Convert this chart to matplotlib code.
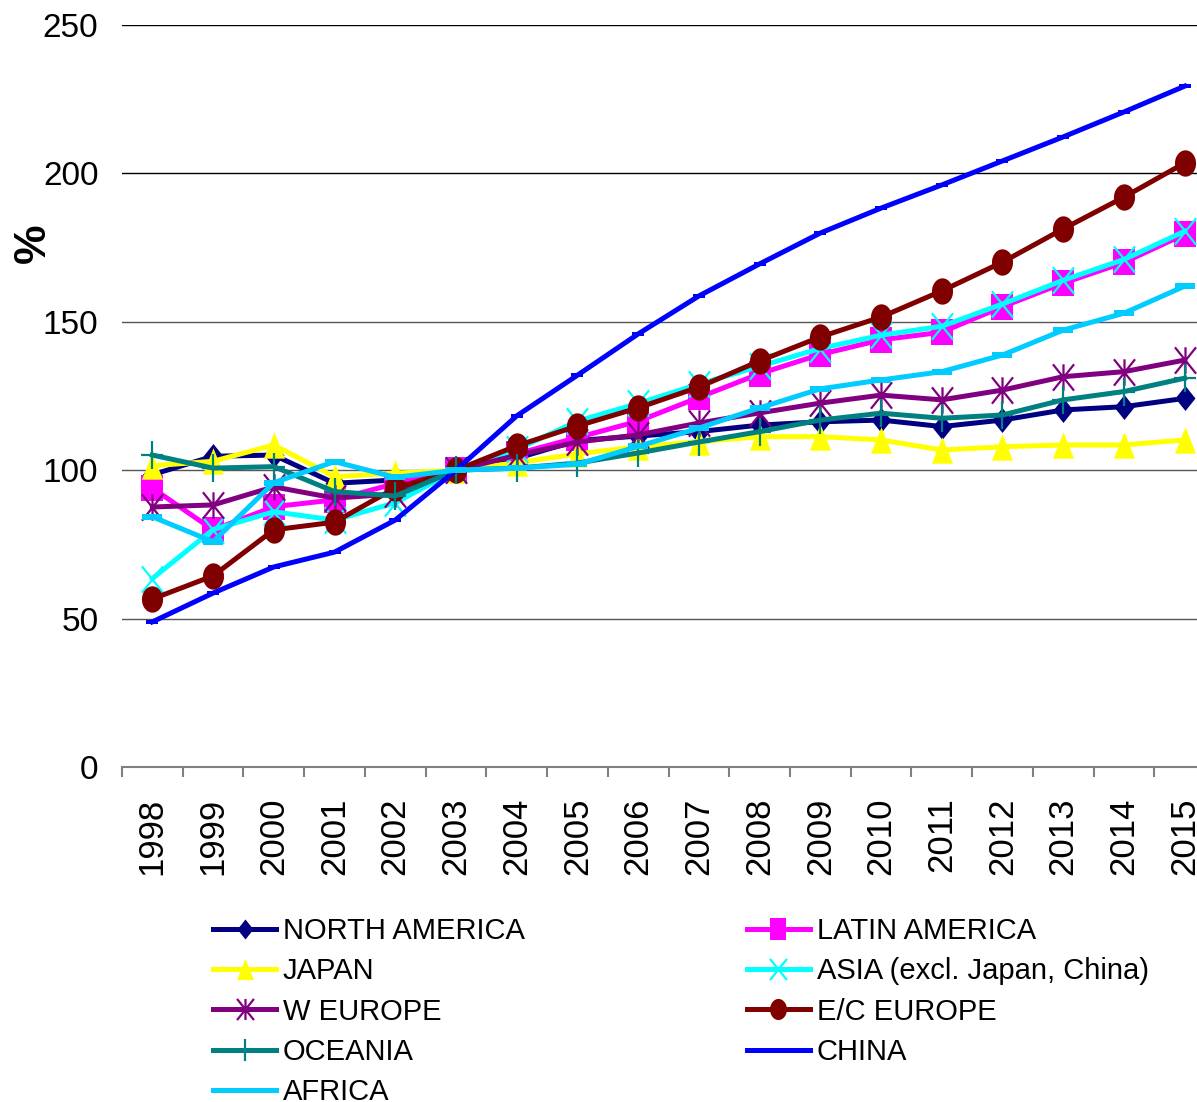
import numpy as np
import matplotlib.pyplot as plt
from matplotlib.path import Path

plt.rcParams['font.family'] = ['Liberation Sans', 'DejaVu Sans']

years = [str(y) for y in range(1998, 2016)]

north_america = [98.5, 104.7, 105.1, 95.6, 96.7, 100, 104.0, 110.0, 111.5, 113.0, 115.2, 116.3, 116.9, 114.7, 116.9, 120.3, 121.4, 124.2]
latin_america = [94.0, 79.9, 87.7, 90.0, 95.5, 100, 105.5, 111.0, 116.5, 124.5, 132.5, 139.0, 143.9, 146.5, 155.1, 163.0, 170.0, 179.5]
japan = [101.5, 103.0, 108.5, 97.8, 99.0, 100, 102.5, 105.5, 107.9, 109.6, 111.3, 111.3, 110.2, 106.8, 107.9, 108.5, 108.5, 110.2]
asia = [63.5, 80.0, 86.0, 83.2, 89.0, 100, 107.0, 116.5, 122.5, 129.0, 135.0, 141.0, 145.5, 148.5, 156.0, 164.0, 171.0, 180.5]
w_europe = [87.6, 88.3, 94.4, 90.6, 92.0, 100, 105.0, 109.5, 111.9, 115.9, 119.3, 122.6, 125.3, 123.7, 127.0, 131.5, 133.2, 137.1]
ec_europe = [56.6, 64.4, 79.9, 82.5, 94.0, 100, 108.2, 114.9, 121.0, 128.0, 136.8, 144.9, 151.6, 160.4, 170.1, 181.3, 192.0, 203.5]
oceania = [105.1, 100.7, 101.2, 92.8, 91.3, 100, 100.7, 102.4, 105.8, 109.5, 113.0, 116.9, 119.2, 117.5, 118.6, 123.7, 126.5, 131.0]
china = [48.9, 58.6, 67.4, 72.4, 83.2, 100, 118.3, 132.0, 145.9, 158.7, 169.5, 179.9, 188.3, 196.1, 204.2, 212.3, 220.7, 229.4]
africa = [84.3, 75.9, 95.8, 102.9, 97.6, 100, 100.7, 102.0, 108.0, 114.2, 121.0, 127.4, 130.4, 133.2, 138.8, 147.2, 152.9, 162.0]


# markers are a little taller than wide
def poly(pts):
    pts = np.asarray(pts, float)
    verts = np.vstack([pts, pts[:1]])
    codes = [Path.MOVETO] + [Path.LINETO] * (len(pts) - 1) + [Path.CLOSEPOLY]
    return Path(verts, codes)


def segs(lines):
    verts, codes = [], []
    for a, b in lines:
        verts += [a, b]
        codes += [Path.MOVETO, Path.LINETO]
    return Path(np.asarray(verts, float), codes)


w = 0.4
m_diamond = poly([(0, 0.5), (w, 0), (0, -0.5), (-w, 0)])
m_square = poly([(-w, -0.5), (w, -0.5), (w, 0.5), (-w, 0.5)])
m_triangle = poly([(-w, -0.5), (w, -0.5), (0, 0.5)])
t = np.linspace(0, 2 * np.pi, 40, endpoint=False)
m_ellipse = poly(np.column_stack([w * np.cos(t), 0.5 * np.sin(t)]))
m_x = segs([((-w, -0.5), (w, 0.5)), ((-w, 0.5), (w, -0.5))])
m_star = segs([((-w, -0.5), (w, 0.5)), ((-w, 0.5), (w, -0.5)), ((0, -0.5), (0, 0.5))])
m_plus = segs([((-w, 0), (w, 0)), ((0, -0.5), (0, 0.5))])
m_dash = poly([(-0.5, -0.13), (0.5, -0.13), (0.5, 0.13), (-0.5, 0.13)])

series = [
    ('NORTH AMERICA', north_america, '#000080', m_diamond, 18, True),
    ('LATIN AMERICA', latin_america, '#FF00FF', m_square, 19, True),
    ('JAPAN', japan, '#FFFF00', m_triangle, 19, True),
    ('ASIA (excl. Japan, China)', asia, '#00FFFF', m_x, 19, False),
    ('W EUROPE', w_europe, '#800080', m_star, 19, False),
    ('E/C EUROPE', ec_europe, '#800000', m_ellipse, 19, True),
    ('OCEANIA', oceania, '#008080', m_plus, 20, False),
    ('CHINA', china, '#0000FF', m_dash, 9, True),
    ('AFRICA', africa, '#00CCFF', m_dash, 15, True),
]

fig = plt.figure(figsize=(11.97, 11.02), dpi=100)
ax = fig.add_axes([122 / 1197, 1 - 767 / 1102, 1093 / 1197, 742 / 1102])

x = np.arange(len(years))
handles = {}
for name, vals, col, mk, ms, filled in series:
    line, = ax.plot(x, vals, color=col, lw=3.6, marker=mk, markersize=ms,
                    markerfacecolor=col, markeredgecolor=col,
                    markeredgewidth=0 if filled else 1.6, label=name,
                    solid_joinstyle='round', clip_on=False)
    handles[name] = line

ax.set_xlim(-0.5, len(years) - 0.5)
ax.set_ylim(0, 250)
ax.set_yticks([0, 50, 100, 150, 200, 250])
for yv in [50, 100, 150, 200, 250]:
    ax.axhline(yv, color='#000000' if yv in (200, 250) else '#555555', lw=1.0, zorder=0)

for s in ['top', 'right', 'left']:
    ax.spines[s].set_visible(False)
ax.spines['bottom'].set_color('#808080')
ax.spines['bottom'].set_linewidth(1.5)

ax.set_xticks(x)
ax.set_xticklabels(years, rotation=90, fontsize=25)
ax.set_xticks(np.arange(len(years) + 1) - 0.5, minor=True)
ax.tick_params(axis='x', which='major', length=0, pad=22)
ax.tick_params(axis='x', which='minor', length=7, width=1.5, color='#808080', direction='out')
ax.tick_params(axis='y', length=0, pad=17, labelsize=24)

fig.text(33 / 1197, 1 - 243 / 1102, '%', rotation=90, fontsize=32, fontweight='bold',
         ha='center', va='center')

order = ['NORTH AMERICA', 'JAPAN', 'W EUROPE', 'OCEANIA', 'AFRICA',
         'LATIN AMERICA', 'ASIA (excl. Japan, China)', 'E/C EUROPE', 'CHINA']
fig.legend([handles[n] for n in order], order, ncol=2, frameon=False,
           loc='upper left', bbox_to_anchor=(213 / 1197, 1 - 917 / 1102),
           fontsize=21, handlelength=2.16, handletextpad=0.24, columnspacing=7.6,
           labelspacing=0.42, borderpad=0, borderaxespad=0, markerscale=0.8)

fig.savefig('out.png', dpi=100)
